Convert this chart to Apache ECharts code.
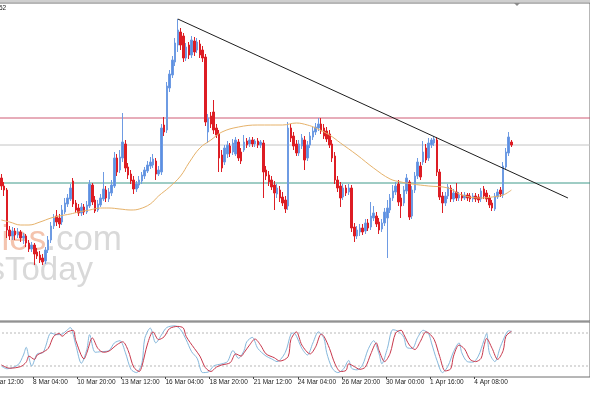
<!DOCTYPE html>
<html><head><meta charset="utf-8">
<script src="https://cdn.jsdelivr.net/npm/echarts@6/dist/echarts.min.js"></script>
<style>html,body{margin:0;padding:0;background:#fff;overflow:hidden;width:590px;height:393px}
#c{position:absolute;left:-22px;top:0;width:614px;height:393px}</style>
</head><body><div id="c"></div>
<script>
// ---- time axis labels (bar index of each label) ----
const labelIdx = [-4, 12, 28, 44, 60, 76, 92, 108, 124, 140, 156, 172];
const labelText = ['5 Mar 12:00','8 Mar 04:00','10 Mar 20:00','13 Mar 12:00','16 Mar 04:00','18 Mar 20:00','21 Mar 12:00','24 Mar 04:00','26 Mar 20:00','30 Mar 00:00','1 Apr 16:00','4 Apr 08:00'];

// ---- OHLC (H4 bars) ----
const open = [1.1122,1.1114,1.1110,1.1070,1.1064,1.1069,1.1065,1.1068,1.1062,1.1064,
1.1057,1.1051,1.1055,1.1048,1.1045,1.1042,1.1039,1.1050,1.1060,1.1074,
1.1084,1.1082,1.1078,1.1088,1.1096,1.1101,1.1119,1.1097,1.1092,1.1087,
1.1093,1.1088,1.1094,1.1115,1.1100,1.1090,1.1095,1.1101,1.1110,1.1101,
1.1107,1.1114,1.1142,1.1130,1.1142,1.1156,1.1133,1.1126,1.1120,1.1111,
1.1115,1.1119,1.1124,1.1129,1.1134,1.1135,1.1139,1.1126,1.1128,1.1175,
1.1170,1.1212,1.1225,1.1238,1.1255,1.1268,1.1264,1.1242,1.1255,1.1245,
1.1259,1.1250,1.1256,1.1250,1.1243,1.1168,1.1184,1.1188,1.1172,1.1166,
1.1145,1.1138,1.1146,1.1154,1.1148,1.1146,1.1158,1.1148,1.1150,1.1159,
1.1156,1.1160,1.1156,1.1159,1.1155,1.1157,1.1130,1.1125,1.1120,1.1115,
1.1106,1.1110,1.1103,1.1100,1.1094,1.1172,1.1164,1.1156,1.1147,1.1154,
1.1160,1.1142,1.1155,1.1163,1.1168,1.1172,1.1176,1.1172,1.1169,1.1166,
1.1156,1.1144,1.1120,1.1114,1.1103,1.1112,1.1108,1.1112,1.1073,1.1064,
1.1068,1.1072,1.1069,1.1077,1.1073,1.1082,1.1084,1.1078,1.1071,1.1077,
1.1082,1.1090,1.1102,1.1108,1.1116,1.1102,1.1097,1.1109,1.1118,1.1084,
1.1110,1.1124,1.1134,1.1138,1.1152,1.1142,1.1155,1.1157,1.1160,1.1128,
1.1104,1.1097,1.1104,1.1112,1.1101,1.1108,1.1102,1.1105,1.1102,1.1105,
1.1104,1.1101,1.1104,1.1103,1.1101,1.1111,1.1107,1.1102,1.1097,1.1091,
1.1103,1.1110,1.1105,1.1133,1.1147,1.1158];
const close = [1.1114,1.1110,1.1070,1.1064,1.1069,1.1065,1.1068,1.1062,1.1064,1.1057,
1.1051,1.1055,1.1046,1.1044,1.1040,1.1038,1.1050,1.1060,1.1074,1.1082,
1.1078,1.1076,1.1090,1.1097,1.1102,1.1112,1.1096,1.1090,1.1087,1.1093,
1.1088,1.1095,1.1116,1.1098,1.1089,1.1096,1.1102,1.1111,1.1102,1.1108,
1.1115,1.1142,1.1128,1.1143,1.1158,1.1132,1.1125,1.1119,1.1111,1.1116,
1.1120,1.1125,1.1130,1.1135,1.1138,1.1141,1.1126,1.1130,1.1172,1.1168,
1.1214,1.1226,1.1240,1.1257,1.1270,1.1255,1.1242,1.1253,1.1245,1.1260,
1.1248,1.1258,1.1245,1.1242,1.1178,1.1182,1.1176,1.1170,1.1165,1.1142,
1.1132,1.1152,1.1155,1.1147,1.1157,1.1160,1.1142,1.1139,1.1158,1.1155,
1.1160,1.1156,1.1159,1.1155,1.1158,1.1128,1.1124,1.1118,1.1113,1.1107,
1.1112,1.1102,1.1097,1.1091,1.1172,1.1162,1.1154,1.1147,1.1156,1.1162,
1.1140,1.1155,1.1164,1.1169,1.1173,1.1176,1.1169,1.1164,1.1161,1.1155,
1.1142,1.1120,1.1112,1.1102,1.1112,1.1107,1.1112,1.1072,1.1064,1.1070,
1.1072,1.1068,1.1077,1.1072,1.1084,1.1087,1.1076,1.1070,1.1077,1.1088,
1.1092,1.1102,1.1109,1.1114,1.1098,1.1094,1.1110,1.1122,1.1083,1.1110,
1.1124,1.1138,1.1123,1.1148,1.1140,1.1157,1.1160,1.1161,1.1128,1.1103,
1.1097,1.1104,1.1113,1.1101,1.1107,1.1102,1.1105,1.1102,1.1105,1.1102,
1.1101,1.1104,1.1101,1.1100,1.1109,1.1104,1.1101,1.1095,1.1092,1.1104,
1.1108,1.1106,1.1134,1.1148,1.1163,1.1155];
const low = [1.1110,1.1104,1.1062,1.1060,1.1060,1.1060,1.1062,1.1058,1.1056,1.1053,
1.1048,1.1048,1.1035,1.1041,1.1037,1.1035,1.1036,1.1047,1.1057,1.1071,
1.1074,1.1072,1.1075,1.1086,1.1093,1.1099,1.1093,1.1087,1.1084,1.1084,
1.1085,1.1086,1.1092,1.1095,1.1087,1.1088,1.1093,1.1099,1.1098,1.1098,
1.1104,1.1112,1.1124,1.1127,1.1138,1.1128,1.1121,1.1116,1.1106,1.1108,
1.1112,1.1116,1.1121,1.1127,1.1131,1.1132,1.1120,1.1124,1.1125,1.1164,
1.1167,1.1208,1.1222,1.1234,1.1248,1.1250,1.1238,1.1239,1.1241,1.1242,
1.1244,1.1247,1.1242,1.1238,1.1174,1.1157,1.1172,1.1166,1.1162,1.1128,
1.1128,1.1135,1.1142,1.1143,1.1145,1.1144,1.1139,1.1136,1.1148,1.1152,
1.1153,1.1153,1.1153,1.1152,1.1152,1.1102,1.1120,1.1114,1.1110,1.1090,
1.1102,1.1098,1.1094,1.1087,1.1090,1.1158,1.1150,1.1144,1.1144,1.1151,
1.1130,1.1139,1.1152,1.1160,1.1165,1.1169,1.1166,1.1161,1.1158,1.1152,
1.1138,1.1116,1.1108,1.1093,1.1100,1.1104,1.1105,1.1068,1.1058,1.1061,
1.1064,1.1065,1.1066,1.1069,1.1070,1.1079,1.1073,1.1066,1.1068,1.1074,
1.1042,1.1087,1.1099,1.1105,1.1094,1.1082,1.1094,1.1106,1.1080,1.1081,
1.1107,1.1121,1.1120,1.1135,1.1137,1.1139,1.1152,1.1154,1.1124,1.1100,
1.1087,1.1094,1.1101,1.1098,1.1098,1.1099,1.1099,1.1099,1.1100,1.1099,
1.1098,1.1098,1.1098,1.1097,1.1098,1.1101,1.1098,1.1092,1.1089,1.1089,
1.1101,1.1103,1.1102,1.1130,1.1144,1.1153];
const high = [1.1126,1.1118,1.1112,1.1074,1.1073,1.1072,1.1072,1.1070,1.1067,1.1066,
1.1060,1.1058,1.1057,1.1052,1.1049,1.1046,1.1053,1.1064,1.1078,1.1086,
1.1090,1.1086,1.1095,1.1102,1.1106,1.1116,1.1122,1.1100,1.1096,1.1097,
1.1096,1.1099,1.1120,1.1117,1.1104,1.1100,1.1106,1.1128,1.1114,1.1112,
1.1120,1.1148,1.1146,1.1150,1.1187,1.1160,1.1137,1.1130,1.1124,1.1119,
1.1124,1.1128,1.1133,1.1139,1.1143,1.1146,1.1142,1.1134,1.1176,1.1183,
1.1218,1.1230,1.1244,1.1262,1.1281,1.1272,1.1267,1.1257,1.1258,1.1264,
1.1263,1.1262,1.1260,1.1254,1.1246,1.1186,1.1188,1.1200,1.1176,1.1170,
1.1150,1.1155,1.1159,1.1157,1.1161,1.1163,1.1161,1.1152,1.1165,1.1162,
1.1163,1.1163,1.1161,1.1162,1.1160,1.1160,1.1134,1.1129,1.1124,1.1119,
1.1116,1.1114,1.1108,1.1104,1.1178,1.1176,1.1168,1.1160,1.1160,1.1166,
1.1164,1.1159,1.1168,1.1173,1.1177,1.1182,1.1182,1.1176,1.1173,1.1170,
1.1160,1.1148,1.1124,1.1118,1.1116,1.1115,1.1116,1.1115,1.1077,1.1074,
1.1076,1.1076,1.1081,1.1081,1.1098,1.1094,1.1088,1.1082,1.1081,1.1092,
1.1100,1.1106,1.1115,1.1118,1.1120,1.1106,1.1114,1.1126,1.1120,1.1114,
1.1128,1.1142,1.1138,1.1159,1.1156,1.1162,1.1162,1.1164,1.1163,1.1131,
1.1108,1.1108,1.1116,1.1115,1.1111,1.1117,1.1108,1.1108,1.1108,1.1107,
1.1107,1.1107,1.1107,1.1106,1.1112,1.1114,1.1110,1.1105,1.1100,1.1107,
1.1111,1.1113,1.1138,1.1152,1.1168,1.1160];

// ---- moving average ----
const maIdx = [0,3,7,10,14,18,21,25,28,32,36,39,43,47,50,54,57,61,65,68,72,76,80,86,93,102,107,111,114,119,123,129,135,141,145,149,155,162,167,174,178,182,185];
const maVal = [1.1080,1.1078,1.1075,1.1075,1.1078,1.1082,1.1084,1.1086,1.1088,1.1090,1.1092,1.1092,1.1091,1.1090,1.1091,1.1096,1.1104,1.1113,1.1124,1.1137,1.1152,1.1160,1.1168,1.1173,1.1175,1.1175,1.1177,1.1175,1.1172,1.1165,1.1157,1.1145,1.1132,1.1121,1.1118,1.1116,1.1114,1.1112,1.1105,1.1102,1.1103,1.1105,1.1110];

// ---- horizontal levels and trendline ----
const levelResist = 1.1182, levelBid = 1.1155, levelSupport = 1.1117;
const trendIdx = [64, 205.5], trendVal = [1.1281, 1.1102];

// ---- stochastic oscillator ----
const kIdx = [0,2,6,8,9,10,11,13,15,16,18,20,22,24,25,27,29,31,32,34,36,39,41,43,45,47,49,51,52,54,56,58,60,63,65,67,69,71,73,75,77,80,82,84,86,88,89,91,93,96,98,100,103,105,106,109,111,113,115,117,118,120,122,124,126,127,129,131,133,135,137,138,140,142,144,146,147,149,151,153,155,156,158,160,162,164,166,167,169,171,173,175,176,177,179,181,183,184,185];
const kVal = [20,15,22,40,54,35,20,42,44,55,80,77,78,86,90,58,25,50,77,45,46,48,62,66,44,14,8,26,70,89,62,76,90,93,86,68,46,34,8,9,20,24,28,48,34,48,64,72,52,38,33,28,45,78,80,52,40,62,82,70,44,16,8,14,30,16,13,22,50,66,42,24,52,86,83,72,54,52,72,85,78,62,30,8,20,46,62,44,28,27,38,66,79,44,28,55,78,84,83];
const dIdx = [0,3,7,9,10,12,13,15,17,19,21,22,24,26,27,30,31,33,35,37,39,42,44,46,48,50,51,53,55,57,59,61,64,66,67,70,72,74,76,78,80,83,85,87,88,90,92,94,96,99,101,104,105,107,109,112,114,116,117,119,121,123,125,126,128,130,132,134,136,137,139,141,143,145,146,148,150,152,154,155,157,159,161,163,164,166,168,170,172,174,175,176,178,180,182,183,185];
const dVal = [22,16,19,27,38,32,40,45,52,74,79,74,82,85,66,33,44,71,52,45,47,59,64,48,18,10,20,60,82,68,73,88,92,89,74,52,38,17,10,18,22,26,42,38,44,58,69,58,42,35,29,37,68,82,58,42,55,78,74,52,24,10,12,24,19,14,18,42,62,48,28,43,80,85,77,58,50,65,82,80,68,37,11,15,38,58,51,32,28,34,55,70,52,32,48,74,83];
const stochLevels = [80, 20];

const X_MIN = -8.48, X_MAX = 213.5;
const pair = (xs, ys) => xs.map((x, i) => [x, ys[i]]);
const hLine = v => [[X_MIN, v], [X_MAX, v]];
const candles = open.map((o, i) => [i, o, close[i], low[i], high[i]]);
const tickPos = labelIdx.map(i => i - 0.5);
const OX = 22; // canvas is shifted 22px left of the window

const xBase = (gi, showLabels) => ({
  type: 'value', gridIndex: gi, min: X_MIN, max: X_MAX,
  splitLine: {show: false},
  axisLine: {show: false},
  axisTick: showLabels ? {show: true, customValues: tickPos, length: 2, lineStyle: {color: '#444'}} : {show: false},
  axisLabel: showLabels ? {
    show: true, customValues: tickPos, align: 'left', margin: 2,
    fontSize: 6.5, fontFamily: 'Liberation Sans', color: '#222',
    formatter: v => { const k = tickPos.indexOf(v); return k >= 0 ? labelText[k] : ''; }
  } : {show: false}
});

const levelSeries = (v, color, dash, xi, yi) => ({
  type: 'line', xAxisIndex: xi, yAxisIndex: yi, data: hLine(v), symbol: 'none', silent: true,
  lineStyle: {color: color, width: 1, type: dash}, z: 1
});

const chart = echarts.init(document.getElementById('c'), null, {renderer: 'canvas'});
chart.setOption({
  animation: false,
  backgroundColor: '#ffffff',
  grid: [
    {left: 0, right: 2, top: 3, height: 318, show: true, borderColor: '#6e6e6e', borderWidth: 1, backgroundColor: 'transparent'},
    {left: 0, right: 2, top: 322, height: 55, show: true, borderColor: '#6e6e6e', borderWidth: 1, backgroundColor: 'transparent'}
  ],
  xAxis: [xBase(0, false), xBase(1, true)],
  yAxis: [
    {type: 'value', gridIndex: 0, min: 1.0979, max: 1.1297, show: false, splitLine: {show: false}},
    {type: 'value', gridIndex: 1, min: 0, max: 100, show: false, splitLine: {show: false}}
  ],
  graphic: [
    {type: 'rect', shape: {x: 0, y: 0, width: 614, height: 2}, style: {fill: '#cfcfcf'}, silent: true},
    {type: 'polygon', shape: {points: [[514 + OX, 3], [520 + OX, 3], [517 + OX, 6]]}, style: {fill: '#8a8a8a'}, silent: true},
    {type: 'text', x: OX - 1, y: 5, style: {text: '52', fontSize: 6.5, fontFamily: 'Liberation Sans', fill: '#222'}, silent: true},
    {type: 'text', x: 122 + OX, y: 258, z: -10, silent: true, style: {
      text: '{o|Economies}{g|.com}', align: 'right', verticalAlign: 'bottom',
      rich: {o: {fill: '#f4c4ae', fontSize: 35, fontFamily: 'Liberation Sans'}, g: {fill: '#d9d9d9', fontSize: 35, fontFamily: 'Liberation Sans'}}
    }},
    {type: 'text', x: 93 + OX, y: 287, z: -10, silent: true, style: {
      text: 'NewsToday', align: 'right', verticalAlign: 'bottom', fill: '#d9d9d9', fontSize: 33, fontFamily: 'Liberation Sans'
    }}
  ],
  series: [
    levelSeries(levelResist, '#cf5a74', 'solid', 0, 0),
    levelSeries(levelBid, '#c4c4c4', 'solid', 0, 0),
    levelSeries(levelSupport, '#3f9a8a', 'solid', 0, 0),
    {
      type: 'candlestick', xAxisIndex: 0, yAxisIndex: 0, data: candles,
      encode: {x: 0, y: [1, 2, 3, 4]},
      barWidth: 2,
      itemStyle: {color: '#5b8fe3', color0: '#dd1d24', borderColor: '#6e9be3', borderColor0: '#dd1d24', borderWidth: 1},
      z: 3
    },
    {
      type: 'line', xAxisIndex: 0, yAxisIndex: 0, data: pair(maIdx, maVal),
      smooth: 0.4, symbol: 'none', lineStyle: {color: '#e6b26a', width: 1}, z: 4
    },
    {
      type: 'line', xAxisIndex: 0, yAxisIndex: 0, data: pair(trendIdx, trendVal),
      symbol: 'none', lineStyle: {color: '#1e1e1e', width: 1}, z: 5
    },
    levelSeries(stochLevels[0], '#b8b8b8', [2, 2], 1, 1),
    levelSeries(stochLevels[1], '#b8b8b8', [2, 2], 1, 1),
    {
      type: 'line', xAxisIndex: 1, yAxisIndex: 1, data: pair(kIdx, kVal),
      smooth: 0.3, symbol: 'none', lineStyle: {color: '#86b8dc', width: 1}, z: 3
    },
    {
      type: 'line', xAxisIndex: 1, yAxisIndex: 1, data: pair(dIdx, dVal),
      smooth: 0.3, symbol: 'none', lineStyle: {color: '#c8384c', width: 1}, z: 4
    }
  ]
});
</script>
</body></html>
